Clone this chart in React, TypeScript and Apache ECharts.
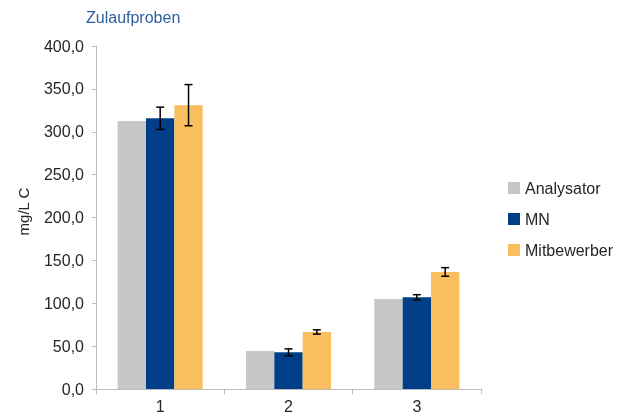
import React, { useEffect, useRef } from "react";
import * as echarts from "echarts";

const categories = ["1", "2", "3"];
const seriesNames = ["Analysator", "MN", "Mitbewerber"];
const analysatorValues = [312.5, 44.3, 105];
const mnValues = [315.7, 42.8, 107];
const mnErrors = [13, 4, 3];
const mitbewerberValues = [331, 66.5, 136.5];
const mitbewerberErrors = [24, 2.5, 5];
const colors = ["#c6c7c7", "#003f87", "#f9be5e"];

const BAR_CATEGORY_GAP = 0.337;
const FONT = "'Liberation Sans', Arial, Helvetica, sans-serif";
const TEXT = "#262626";

export default function App() {
  const ref = useRef<HTMLDivElement>(null);

  useEffect(() => {
    if (!ref.current) return;
    const chart = echarts.init(ref.current, undefined, { renderer: "svg" });

    const errorData: number[][] = [];
    mnValues.forEach((v, i) => errorData.push([i, v, mnErrors[i], 1]));
    mitbewerberValues.forEach((v, i) =>
      errorData.push([i, v, mitbewerberErrors[i], 2])
    );

    const renderError = (params: any, api: any) => {
      const ci = api.value(0);
      const v = api.value(1);
      const e = api.value(2);
      const si = api.value(3);
      const catW = api.size([1, 0])[0];
      const barW = (catW * (1 - BAR_CATEGORY_GAP)) / 3;
      const offset = (si - 1) * barW;
      const top = api.coord([ci, v + e]);
      const bot = api.coord([ci, v - e]);
      const x = top[0] + offset;
      const cap = 4;
      const style = { stroke: "#000", lineWidth: 1.5 };
      return {
        type: "group",
        children: [
          { type: "line", shape: { x1: x, y1: top[1], x2: x, y2: bot[1] }, style },
          { type: "line", shape: { x1: x - cap, y1: top[1], x2: x + cap, y2: top[1] }, style },
          { type: "line", shape: { x1: x - cap, y1: bot[1], x2: x + cap, y2: bot[1] }, style },
        ],
      };
    };

    const option: any = {
      animation: false,
      textStyle: { fontFamily: FONT },
      title: {
        text: "Zulaufproben",
        left: 81,
        top: 4,
        textStyle: { color: "#2b5f9e", fontSize: 16, fontWeight: "normal", fontFamily: FONT },
      },
      legend: {
        orient: "vertical",
        left: 508,
        top: 180,
        padding: 0,
        itemWidth: 12,
        itemHeight: 12,
        itemGap: 15,
        icon: "rect",
        data: seriesNames,
        textStyle: { color: TEXT, fontSize: 16, fontFamily: FONT },
      },
      grid: { left: 96, right: 152, top: 46, bottom: 27, containLabel: false },
      xAxis: {
        type: "category",
        data: categories,
        axisLine: { lineStyle: { color: "#bdbdbd", width: 1 } },
        axisTick: { show: true, length: 5, lineStyle: { color: "#bdbdbd" } },
        axisLabel: { color: TEXT, fontSize: 16, margin: 9, fontFamily: FONT },
      },
      yAxis: {
        type: "value",
        min: 0,
        max: 400,
        interval: 50,
        name: "mg/L C",
        nameLocation: "middle",
        nameGap: 65,
        nameRotate: 90,
        nameTextStyle: { color: TEXT, fontSize: 15, fontFamily: FONT, padding: [0, 0, 0, 12] },
        axisLine: { show: true, lineStyle: { color: "#bdbdbd", width: 1 } },
        axisTick: { show: true, length: 4, lineStyle: { color: "#bdbdbd" } },
        splitLine: { show: false },
        axisLabel: {
          color: TEXT,
          fontSize: 16,
          margin: 12,
          fontFamily: FONT,
          formatter: (v: number) => v.toFixed(1).replace(".", ","),
        },
      },
      series: [
        {
          name: seriesNames[0],
          type: "bar",
          data: analysatorValues,
          itemStyle: { color: colors[0] },
          barGap: "0%",
          barCategoryGap: BAR_CATEGORY_GAP * 100 + "%",
        },
        {
          name: seriesNames[1],
          type: "bar",
          data: mnValues,
          itemStyle: { color: colors[1] },
          barGap: "0%",
          barCategoryGap: BAR_CATEGORY_GAP * 100 + "%",
        },
        {
          name: seriesNames[2],
          type: "bar",
          data: mitbewerberValues,
          itemStyle: { color: colors[2] },
          barGap: "0%",
          barCategoryGap: BAR_CATEGORY_GAP * 100 + "%",
        },
        {
          type: "custom",
          renderItem: renderError,
          data: errorData,
          encode: { x: 0, y: 1 },
          z: 10,
          silent: true,
        },
      ],
    };

    chart.setOption(option);
    return () => chart.dispose();
  }, []);

  return (
    <div
      ref={ref}
      style={{ position: "fixed", left: 0, top: 0, width: 633, height: 416 }}
    />
  );
}
